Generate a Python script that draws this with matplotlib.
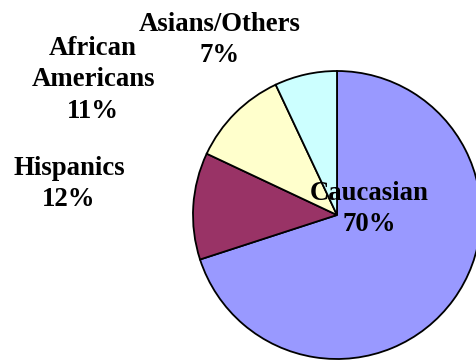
import matplotlib
matplotlib.use("Agg")
import matplotlib.pyplot as plt

# Population share by group
groups = ["Caucasian", "Hispanics", "African\nAmericans", "Asians/Others"]
shares = [70, 12, 11, 7]
colors = ["#9999FF", "#993366", "#FFFFCC", "#CCFFFF"]

W, H = 476, 360
fig = plt.figure(figsize=(W / 100, H / 100), dpi=100)
ax = fig.add_axes([0, 0, 1, 1])

cx, cy, r = 337, H - 215, 144
ax.pie(shares, colors=colors, startangle=90, counterclock=False,
       center=(cx, cy), radius=r,
       wedgeprops=dict(edgecolor="black", linewidth=1.3))
ax.set_xlim(0, W)
ax.set_ylim(0, H)
ax.set_aspect("equal")
ax.axis("off")

# label anchor points (pixels from top-left)
label_pos = [(369, 209), (69, 184), (93, 80), (220, 40)]
font = dict(family="Liberation Serif", weight="bold", size=19.3)
for g, s, (x, y) in zip(groups, shares, label_pos):
    ax.text(x, H - y, f"{g}\n{s}%", ha="center", va="center",
            multialignment="center", linespacing=1.32, **font)

fig.savefig("out.png", dpi=100)
